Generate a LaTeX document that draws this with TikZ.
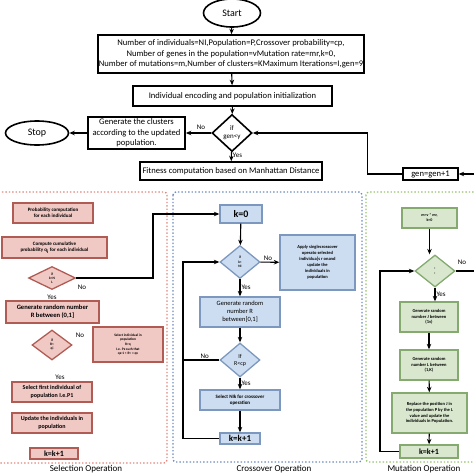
\documentclass[tikz,border=0pt]{standalone}
\usepackage{fontspec}
\setmainfont{Carlito}
\usetikzlibrary{arrows.meta, positioning, shapes.geometric, calc}

\definecolor{selfill}{RGB}{240,200,196}
\definecolor{seldraw}{RGB}{176,92,84}
\definecolor{crofill}{RGB}{205,221,241}
\definecolor{crodraw}{RGB}{125,152,190}
\definecolor{mutfill}{RGB}{216,231,206}
\definecolor{mutdraw}{RGB}{132,170,112}
\definecolor{selframe}{RGB}{225,135,125}
\definecolor{croframe}{RGB}{110,140,190}
\definecolor{mutframe}{RGB}{150,195,110}

\begin{document}
\begin{tikzpicture}[
    x=1pt, y=-1pt,
    font=\fontsize{8.6}{10.5}\selectfont,
    % Styles
    mainbox/.style={
        draw, line width=1.6pt, fill=white, align=center, inner sep=1pt
    },
    terminal/.style={
        draw, ellipse, line width=1.6pt, fill=white, inner sep=0pt,
        font=\fontsize{10}{12}\selectfont
    },
    decision/.style={
        draw, diamond, line width=1.6pt, fill=white, align=center, inner sep=0pt,
        font=\fontsize{7}{8}\selectfont
    },
    selbox/.style={
        draw=seldraw, fill=selfill, line width=1.3pt, align=center, inner sep=1pt,
        font=\bfseries\fontsize{5}{6}\selectfont
    },
    crobox/.style={
        draw=crodraw, fill=crofill, line width=1.3pt, align=center, inner sep=1pt,
        font=\bfseries\fontsize{5}{6}\selectfont
    },
    mutbox/.style={
        draw=mutdraw, fill=mutfill, line width=1.3pt, align=center, inner sep=1pt,
        font=\bfseries\fontsize{4.5}{5.6}\selectfont
    },
    seldec/.style={selbox, diamond, inner sep=0pt, font=\bfseries\fontsize{3.5}{4}\selectfont},
    crodec/.style={crobox, diamond, inner sep=0pt, font=\bfseries\fontsize{3.5}{4.5}\selectfont},
    mutdec/.style={mutbox, diamond, inner sep=0pt, font=\bfseries\fontsize{4}{5}\selectfont},
    frame/.style={dotted, line width=1.4pt, rounded corners=3pt},
    arrow/.style={-{Stealth[length=5.5pt, width=4.5pt]}, line width=1.1pt},
    link/.style={line width=1.1pt},
    label/.style={font=\fontsize{7}{8}\selectfont, inner sep=1pt},
    title/.style={font=\fontsize{9}{10}\selectfont}
]
    \useasboundingbox (0,0) rectangle (474,474);

    % --- Main loop ---
    \node[terminal, minimum width=57pt, minimum height=28pt] (start) at (232,13) {Start};
    \node[mainbox, minimum width=262pt, minimum height=38pt] (params) at (231,54) {
        Number of individuals=NI,Population=P,Crossover probability=cp,\\
        Number of genes in the population=vMutation rate=mr,k=0,\\
        Number of mutations=m,Number of clusters=KMaximum Iterations=I,gen=9
    };
    \node[mainbox, minimum width=199pt, minimum height=20pt] (init) at (232.5,96) {Individual encoding and population initialization};
    \node[decision, minimum width=40pt, minimum height=37pt] (gencheck) at (232,133) {if\\gen<y};
    \node[mainbox, minimum width=97pt, minimum height=32pt] (clusters) at (136.5,133) {Generate the clusters\\according to the updated\\population.};
    \node[terminal, minimum width=63pt, minimum height=24pt] (stop) at (37,133) {Stop};
    \node[mainbox, minimum width=182pt, minimum height=18pt] (fitness) at (231,171) {Fitness computation based on Manhattan Distance};
    \node[mainbox, line width=1.3pt, minimum width=55pt, minimum height=12pt] (genup) at (430.5,174) {gen=gen+1};
    \coordinate (offright) at (482,222);

    \draw[arrow] (start) -- (params);
    \draw[arrow] (params) -- (init);
    \draw[arrow] (init) -- (gencheck);
    \draw[arrow] (gencheck) -- node[above, label, pos=0.4, yshift=2pt] {No} (clusters);
    \draw[arrow] (clusters) -- (stop);
    \draw[arrow] (gencheck) -- node[right, label, pos=0.4] {Yes} (fitness);
    \draw[arrow] (genup.west) -- ++(-35,0) |- (gencheck.east);

    % --- Selection Operation ---
    \draw[frame, draw=selframe] (-5,192) rectangle (167,463);
    \node[title] (seltitle) at (86,469) {Selection Operation};
    \node[selbox, minimum width=80pt, minimum height=20pt] (probcomp) at (53,213) {Probability computation\\for each individual};
    \node[selbox, minimum width=105pt, minimum height=21pt] (cumprob) at (54.5,247.5) {Compute cumulative\\probability q\textsubscript{i} for each individual};
    \node[seldec, minimum width=47pt, minimum height=23pt] (kdec) at (52,278) {if\\k<N\\L};
    \node[selbox, minimum width=93pt, minimum height=22pt, font=\bfseries\fontsize{6.6}{8.2}\selectfont] (genr) at (52.5,312) {Generate random number\\R between (0,1]};
    \node[seldec, minimum width=40pt, minimum height=30pt] (rqdec) at (52,345) {if\\R<\\qi};
    \node[selbox, minimum width=70pt, minimum height=35pt, font=\bfseries\fontsize{3.5}{4.6}\selectfont] (selind) at (128,344.5) {Select individual in\\population\\R>q\\I.e. Px such that\\qx-1 < R< = qx};
    \node[selbox, minimum width=80pt, minimum height=20pt, font=\bfseries\fontsize{6}{7.5}\selectfont] (selfirst) at (52,392) {Select first individual of\\population I.e.P1};
    \node[selbox, minimum width=80pt, minimum height=20pt, font=\bfseries\fontsize{6}{7.5}\selectfont] (selupd) at (52,423) {Update the individuals in\\population};
    \node[selbox, minimum width=48pt, minimum height=11pt, font=\bfseries\fontsize{8}{9}\selectfont] (selinc) at (54,453.5) {k=k+1};
    \node[label] at (82,287) {No};
    \node[label] at (52,297) {Yes};
    \node[label] at (80,335) {No};
    \node[label] at (60,377) {Yes};

    % --- Crossover Operation ---
    \draw[frame, draw=croframe] (173,192) rectangle (362,462);
    \node[title] (crotitle) at (274,469) {Crossover Operation};
    \node[crobox, minimum width=42pt, minimum height=18pt, font=\bfseries\fontsize{10}{12}\selectfont] (kzero) at (241,214) {k=0};
    \node[crodec, minimum width=40pt, minimum height=33pt] (crodec1) at (240,262) {if\\k<\\NI};
    \node[crobox, minimum width=75pt, minimum height=55pt, font=\bfseries\fontsize{4.5}{6}\selectfont] (apply) at (317.5,262.5) {Apply singlecrossover\\operato selected\\individua]s r onand\\update the\\individuals in\\population};
    \node[crobox, minimum width=80pt, minimum height=30pt, font=\fontsize{6.5}{8}\selectfont] (genr2) at (240,312) {Generate random\\number R\\between[0,1]};
    \node[crodec, minimum width=40pt, minimum height=34pt, font=\fontsize{6}{7}\selectfont] (rcpdec) at (240,360) {If\\R<cp};
    \node[crobox, minimum width=80pt, minimum height=20pt] (selnik) at (240,400) {Select NIk for crossover\\operation};
    \node[crobox, minimum width=40pt, minimum height=11pt, font=\bfseries\fontsize{9}{10}\selectfont] (croinc) at (240,438.5) {k=k+1};

    \draw[arrow] (kdec.east) -- (153,278) |- (kzero.west);
    \draw[arrow] (kzero) -- (crodec1);
    \draw[arrow] (crodec1) -- node[above, label, pos=0.4] {No} (apply);
    \draw[arrow] (crodec1) -- node[right, label, pos=0.45] {Yes} (genr2);
    \draw[arrow] (genr2) -- (rcpdec);
    \draw[arrow] (rcpdec) -- node[right, label, pos=0.45] {Yes} (selnik);
    \draw[arrow] (selnik) -- (croinc);
    \draw[arrow] (croinc.west) -- (183,438.5) |- (crodec1.west);
    \draw[link] (rcpdec.west) -- node[above, label, pos=0.4] {No} (183,360);

    % --- Mutation Operation ---
    \draw[frame, draw=mutframe] (366,192) rectangle (490,462);
    \node[title] (muttitle) at (424,469) {Mutation Operation};
    \node[mutbox, minimum width=55pt, minimum height=20pt, font=\bfseries\fontsize{4}{5}\selectfont] (mutinit) at (429.5,218) {m=v * mr,\\k=0};
    \node[mutdec, minimum width=40pt, minimum height=32pt] (mutdec1) at (435,271) {:\\:};
    \node[mutbox, minimum width=58pt, minimum height=30pt] (genj) at (429,317) {Generate random\\number J between\\(1v)};
    \node[mutbox, minimum width=58pt, minimum height=30pt] (genl) at (429,365) {Generate random\\number L between\\(1,K)};
    \node[mutbox, minimum width=75pt, minimum height=40pt] (replace) at (429.5,413) {Replace the position J in\\the population P by the L\\value and update the\\individuals in Population.};
    \node[mutbox, minimum width=58pt, minimum height=13pt, font=\bfseries\fontsize{8}{9}\selectfont] (mutinc) at (429,451.5) {k=k+1};

    \draw[arrow] (mutinit) -- (mutdec1.north -| mutinit.south);
    \draw[arrow] (mutdec1) -- node[right, label, pos=0.5] {Yes} (genj.north -| mutdec1.south);
    \draw[arrow] (genj) -- (genl);
    \draw[arrow] (genl) -- (replace);
    \draw[arrow] (replace) -- (mutinc);
    \draw[arrow] (mutinc.west) -- (380,451.5) |- (mutdec1.west);
    \draw[arrow] (mutdec1.east) -- (mutdec1.east -| offright) |- (genup.east);
    \node[label] at (462,262) {No};

\end{tikzpicture}
\end{document}
